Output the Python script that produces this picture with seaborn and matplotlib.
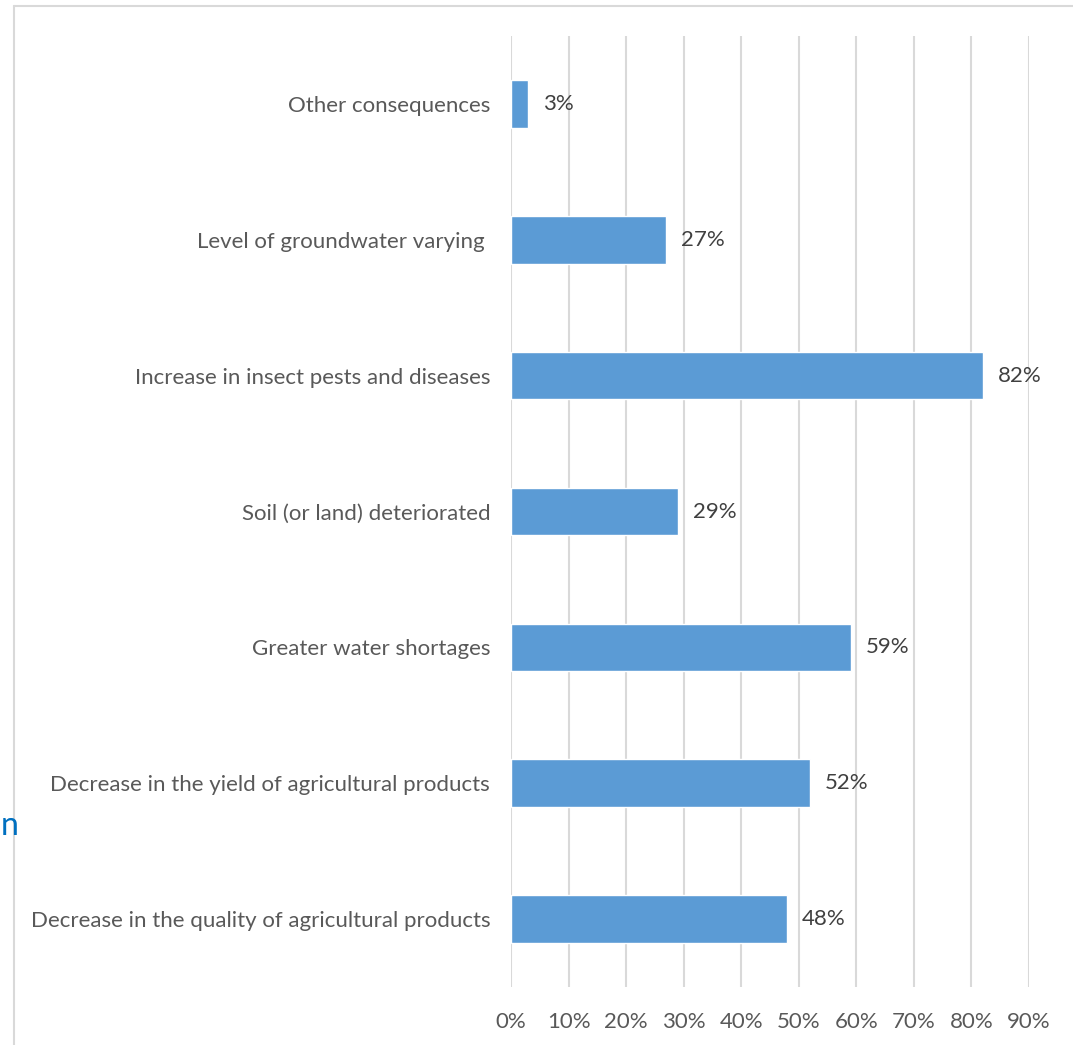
import matplotlib
matplotlib.use("Agg")
import matplotlib.pyplot as plt
import seaborn as sns
import pandas as pd
from matplotlib.lines import Line2D

categories = [
    "Other consequences",
    "Level of groundwater varying ",
    "Increase in insect pests and diseases",
    "Soil (or land) deteriorated",
    "Greater water shortages",
    "Decrease in the yield of agricultural products",
    "Decrease in the quality of agricultural products",
]
values = [0.03, 0.27, 0.82, 0.29, 0.59, 0.52, 0.48]
value_labels = ["3%", "27%", "82%", "29%", "59%", "52%", "48%"]
xticks = [0.0, 0.1, 0.2, 0.3, 0.4, 0.5, 0.6, 0.7, 0.8, 0.9]
xtick_labels = ["0%", "10%", "20%", "30%", "40%", "50%", "60%", "70%", "80%", "90%"]

sns.set_theme(style="white")
plt.rcParams["font.family"] = ["Lato", "DejaVu Sans"]

W, H = 1073, 1045
fig = plt.figure(figsize=(W / 100, H / 100), dpi=100)
ax = fig.add_axes([511 / W, 1 - 987 / H, (1029 - 511) / W, (987 - 36) / H])

df = pd.DataFrame({"category": categories, "value": values})
sns.barplot(data=df, x="value", y="category", orient="h", color="#5B9BD5",
            saturation=1, width=0.35, ax=ax, zorder=3)

ax.set_xlim(0, 0.9)
ax.set_ylim(6.5, -0.5)
ax.set_xticks(xticks)
ax.set_xticklabels(xtick_labels)
ax.set_xlabel("")
ax.set_ylabel("")
ax.grid(axis="x", color="#D9D9D9", linewidth=1.5, zorder=0)
ax.grid(axis="y", visible=False)
for s in ax.spines.values():
    s.set_visible(False)
ax.tick_params(axis="x", length=0, pad=18, labelsize=16, labelcolor="#595959")
ax.tick_params(axis="y", length=0, pad=15, labelsize=16, labelcolor="#595959")

for i, (v, lab) in enumerate(zip(values, value_labels)):
    ax.text(v + 0.026, i, lab, va="center", ha="left", fontsize=16, color="#404040")

# outer frame lines
fig.add_artist(Line2D([14 / W, 1.0], [1 - 6 / H, 1 - 6 / H], color="#D9D9D9", linewidth=1.5))
fig.add_artist(Line2D([14 / W, 14 / W], [1 - 6 / H, 0.0], color="#D9D9D9", linewidth=1.5))
fig.text(0.5 / W, 1 - 826 / H, "n", color="#0070C0", fontsize=23, va="center", ha="left")

fig.savefig("out.png", dpi=100)
